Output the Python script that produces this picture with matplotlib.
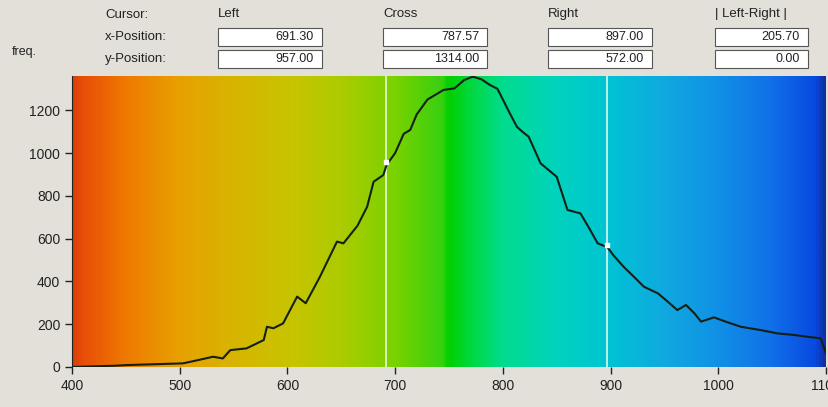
import numpy as np
import matplotlib
matplotlib.use('Agg')
import matplotlib.pyplot as plt
from matplotlib.colors import LinearSegmentedColormap

plt.rcParams['font.family'] = ['Liberation Sans', 'DejaVu Sans']

# spectrum (wavelength vs freq.)
wavelength = [400, 420, 440, 451, 470, 490, 503, 515, 531, 540, 547, 562, 578, 581,
              587, 596, 609, 617, 630, 646, 652, 665, 674, 680, 689, 692, 700, 708,
              714, 720, 730, 745, 755, 764, 772, 780, 788, 795, 800, 806, 813, 818,
              824, 835, 850, 860, 872, 880, 888, 897, 903, 912, 922, 931, 944, 952,
              962, 970, 978, 984, 996, 1008, 1021, 1040, 1055, 1070, 1085, 1095, 1100]
freq = [0, 3, 6, 9, 12, 15, 17, 30, 48, 40, 79, 87, 126, 188,
        181, 204, 329, 298, 420, 586, 578, 660, 749, 866, 897, 944, 1000, 1090,
        1108, 1180, 1250, 1295, 1302, 1341, 1357, 1345, 1318, 1300, 1250, 1190, 1123, 1100,
        1076, 952, 889, 734, 718, 650, 578, 560, 520, 469, 420, 375, 344, 310,
        266, 290, 250, 212, 232, 210, 188, 172, 157, 150, 140, 134, 65]

# cursor panel values
cursor_cols = ['Left', 'Cross', 'Right', '| Left-Right |']
x_pos = ['691.30', '787.57', '897.00', '205.70']
y_pos = ['957.00', '1314.00', '572.00', '0.00']
left_cursor = (691.3, 957.0)
right_cursor = (897.0, 572.0)

# background gradient colour stops (wavelength fraction, colour)
grad_stops = [(0.00, '#d8400a'), (0.01, '#e84c08'), (0.07, '#ee7a00'), (0.14, '#e8a000'),
              (0.21, '#d8b400'), (0.29, '#c8c400'), (0.36, '#aacc00'), (0.43, '#78d200'),
              (0.49, '#38d010'), (0.50, '#00d000'), (0.53, '#00d840'), (0.57, '#00dc8c'),
              (0.64, '#00d4bc'), (0.71, '#00c4d4'), (0.79, '#10a8e0'), (0.86, '#1090e6'),
              (0.93, '#1070e8'), (0.99, '#0848e0'), (1.00, '#1030a0')]

bg = '#e2e0d8'
fig = plt.figure(figsize=(8.29, 4.07), dpi=100, facecolor=bg)
ax = fig.add_axes([72 / 829, 1 - 367 / 407, 754 / 829, 291 / 407])

cmap = LinearSegmentedColormap.from_list('spec', grad_stops)
ax.imshow(np.linspace(0, 1, 700).reshape(1, -1), cmap=cmap, aspect='auto',
          extent=[400, 1100, 0, 1360], zorder=0)

ax.axvline(left_cursor[0], color='#f4fff0', lw=1.2, alpha=0.9, zorder=1)
ax.axvline(right_cursor[0], color='#f4fff0', lw=1.2, alpha=0.9, zorder=1)
ax.plot(wavelength, freq, color='#142014', lw=1.5, zorder=2)
ax.plot([left_cursor[0], right_cursor[0]], [left_cursor[1], right_cursor[1]], 's',
        color='white', ms=3, zorder=3)

ax.set_xlim(400, 1100)
ax.set_ylim(0, 1360)
ax.set_xticks(range(400, 1101, 100))
ax.set_yticks(range(0, 1201, 200))
ax.tick_params(labelsize=10, length=5, width=1, colors='#222222')
for s in ax.spines.values():
    s.set_visible(False)
ax.spines['left'].set_visible(True)
ax.spines['left'].set_color('#222222')

# header panel
fig.text(12 / 829, 1 - 52 / 407, 'freq.', fontsize=9, va='center', color='#222222')
labels_y = [15, 37, 59]
for txt, y in zip(['Cursor:', 'x-Position:', 'y-Position:'], labels_y):
    fig.text(105 / 829, 1 - y / 407, txt, fontsize=9.5, va='center', color='#222222')

box_left = [218, 383, 548, 715]
box_right = [322, 487, 652, 808]
for i, name in enumerate(cursor_cols):
    fig.text(box_left[i] / 829, 1 - 14 / 407, name, fontsize=9.5, va='center', color='#222222')
    for val, yc in zip([x_pos[i], y_pos[i]], [37, 59]):
        w = (box_right[i] - box_left[i]) / 829
        fig.patches.append(plt.Rectangle((box_left[i] / 829, 1 - (yc + 9) / 407), w, 18 / 407,
                                         transform=fig.transFigure, facecolor='white',
                                         edgecolor='#555555', lw=0.8))
        fig.text((box_right[i] - 8) / 829, 1 - yc / 407, val, fontsize=9, ha='right',
                 va='center', color='#222222')

plt.savefig('out.png', dpi=100, facecolor=bg)
